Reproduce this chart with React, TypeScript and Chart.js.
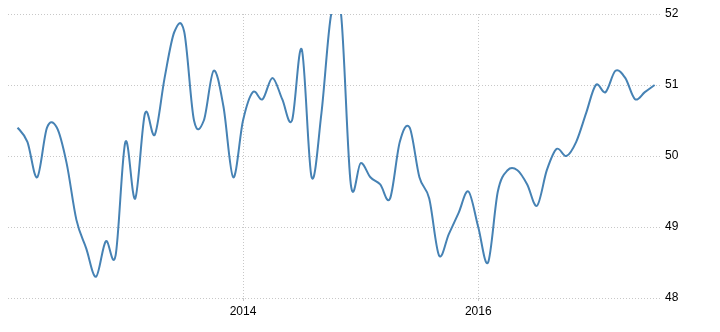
import React, { useEffect, useRef } from "react";
import { Chart, registerables } from "chart.js";

Chart.register(...registerables);

// Monthly observations, Feb 2012 .. Jul 2017
const startYear = 2012;
const startMonth = 2;
const values: number[] = [
  50.4, 50.2, 49.7, 50.4, 50.4, 49.9, 49.1, 48.7, 48.3, 48.8, 48.6,
  50.2, 49.4, 50.6, 50.3, 51.1, 51.75, 51.75, 50.5, 50.5, 51.2, 50.7, 49.7,
  50.5, 50.9, 50.8, 51.1, 50.8, 50.5, 51.5, 49.7, 50.6, 52.0, 52.0, 49.6, 49.9, 49.7,
  49.6, 49.4, 50.2, 50.4, 49.7, 49.4, 48.6, 48.9, 49.2, 49.5, 49.0,
  48.5, 49.5, 49.8, 49.8, 49.6, 49.3, 49.8, 50.1, 50.0, 50.2, 50.6, 51.0, 50.9,
  51.2, 51.1, 50.8, 50.9, 51.0,
];
const months: string[] = values.map((_, i) => {
  const m = startMonth - 1 + i;
  const y = startYear + Math.floor(m / 12);
  const mm = (m % 12) + 1;
  return `${y}-${String(mm).padStart(2, "0")}`;
});
const xTickLabels: string[] = ["2014", "2016"];
const yTicks: number[] = [48, 49, 50, 51, 52];

// Uniform Catmull-Rom smoothing of the line through the scale-positioned points
const catmullRom = {
  id: "catmullRom",
  beforeDatasetDraw(chart: any, args: any) {
    const meta = args.meta;
    const pts = meta.data;
    const n = pts.length;
    for (let i = 0; i < n; i++) {
      const p = pts[i];
      const prev = pts[Math.max(0, i - 1)];
      const next = pts[Math.min(n - 1, i + 1)];
      const tx = (next.x - prev.x) / 6;
      const ty = (next.y - prev.y) / 6;
      p.cp1x = p.x - tx;
      p.cp1y = p.y - ty;
      p.cp2x = p.x + tx;
      p.cp2y = p.y + ty;
    }
    if (meta.dataset) {
      meta.dataset._pointsUpdated = true;
      meta.dataset._path = undefined;
    }
  },
};

export default function App() {
  const ref = useRef<HTMLCanvasElement | null>(null);
  useEffect(() => {
    if (!ref.current) return;
    const xTickPos = xTickLabels.map((y) => months.indexOf(`${y}-01`));
    const font = { family: "'Liberation Sans', Arial, sans-serif", size: 12 };
    const chart = new Chart(ref.current, {
      type: "line",
      data: {
        datasets: [
          {
            data: values.map((v, i) => ({ x: i, y: v })),
            borderColor: "#4682B4",
            borderWidth: 2,
            pointRadius: 0,
            tension: 0.4,
            fill: false,
          },
        ],
      },
      plugins: [catmullRom],
      options: {
        animation: false,
        responsive: false,
        layout: { padding: { left: 8, top: 14, right: 0, bottom: 0 } },
        plugins: { legend: { display: false }, tooltip: { enabled: false } },
        scales: {
          x: {
            type: "linear",
            min: -0.98,
            max: 65.65,
            afterBuildTicks: (axis: any) => {
              axis.ticks = xTickPos.map((v) => ({ value: v }));
            },
            afterFit: (scale: any) => {
              scale.height = 34;
            },
            ticks: {
              autoSkip: false,
              maxRotation: 0,
              padding: 3,
              color: "#000",
              font,
              callback: (v: any) => {
                const idx = xTickPos.indexOf(Number(v));
                return idx >= 0 ? xTickLabels[idx] : "";
              },
            },
            grid: {
              color: "#c8c8c8",
              lineWidth: 1,
              tickLength: 3,
              drawTicks: true,
              tickColor: "#c8c8c8",
            },
            border: { display: false, dash: [1, 2] },
          },
          y: {
            position: "right",
            min: 48,
            max: 52,
            afterBuildTicks: (axis: any) => {
              axis.ticks = yTicks.map((v) => ({ value: v }));
            },
            afterFit: (scale: any) => {
              scale.width = 59;
            },
            ticks: {
              padding: 4,
              color: "#000",
              font,
            },
            grid: {
              color: "#c8c8c8",
              lineWidth: 1,
              drawTicks: false,
            },
            border: { display: false, dash: [1, 2] },
          },
        },
      },
    } as any);
    return () => chart.destroy();
  }, []);
  return (
    <div style={{ position: "fixed", left: 0, top: 0, width: 720, height: 332, background: "#fff" }}>
      <canvas ref={ref} width={720} height={332} />
    </div>
  );
}
